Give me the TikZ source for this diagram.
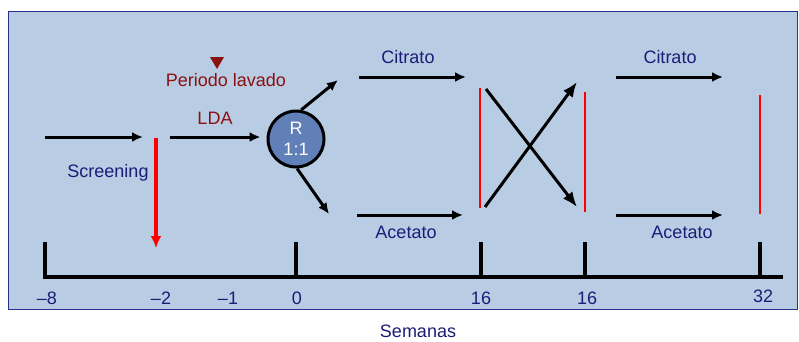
\documentclass[tikz,border=0pt]{standalone}
\usepackage{fontspec}
\setmainfont{Liberation Sans}
\usepackage{tikz}
\usetikzlibrary{arrows.meta,positioning}
\definecolor{panelBg}{HTML}{B8CCE4}
\definecolor{panelEdge}{HTML}{2B2F8F}
\definecolor{navy}{HTML}{1C1C78}
\definecolor{wine}{HTML}{8B1010}
\definecolor{randBg}{HTML}{6280B8}

\begin{document}
\begin{tikzpicture}[x=1pt,y=-1pt,>=Latex,
  lbl/.style={font=\fontsize{18}{21}\selectfont,text=navy,anchor=base,inner sep=0pt},
  flow/.style={-{Latex[length=11pt,width=10pt]},line width=3pt},
  swap/.style={-{Latex[length=15pt,width=12pt]},line width=3pt},
  axis/.style={line width=3.2pt},
  washout/.style={red,line width=2.2pt}]
  \useasboundingbox (0,0) rectangle (799,341);
  \draw[panelEdge,fill=panelBg,line width=1pt] (8,11) rectangle (797,309);

  % time axis
  \foreach \x/\n in {45/a,296/b,481/c,585/d,760/e}
    \coordinate (tick\n) at (\x,242);
  \coordinate (axR) at (783,277);
  \draw[axis] (ticka) |- (axR);
  \foreach \n in {b,c,d,e}
    \draw[axis] (tick\n) -- (tick\n |- axR);
  \foreach \x/\t in {47/{–8},161/{–2},228/{–1},297/0,481/16,587/16}
    \node[lbl] (wk\x) at (\x,304) {\t};
  \node[lbl] (wk763) at (763,302) {32};
  \node[lbl] (weeks) at (418,337) {Semanas};

  % screening and run-in
  \coordinate (scrA) at (45,137);
  \coordinate (scrB) at (143,137);
  \draw[flow] (scrA) -- (scrB);
  \node[lbl] (screen) at (108,177) {Screening};
  \coordinate (dropA) at (156,138);
  \coordinate (dropB) at (156,248);
  \draw[red,line width=3.2pt,-{Latex[length=12pt,width=11pt]}] (dropA) -- (dropB);

  \node[circle,draw,line width=3pt,fill=randBg,minimum size=56pt,inner sep=0pt,
    text=white,align=center,font=\fontsize{18}{21}\selectfont] (rand) at (296,139) {R\\1:1};
  \coordinate (ldaA) at (170,137);
  \draw[flow,shorten >=6pt] (ldaA) -- (ldaA -| rand.west);
  \node[lbl,text=wine] (lda) at (215,124) {LDA};
  \node[lbl,text=wine] (washlbl) at (226,86) {Periodo lavado};
  \fill[wine] (210,57) -- (224,57) -- (217,69) -- cycle;

  % randomisation
  \coordinate (upTip) at (338,80);
  \coordinate (loTip) at (329,214);
  \draw[flow] (rand.80) -- (upTip);
  \draw[flow] (rand.-88) -- (loTip);

  % first period
  \coordinate (citA) at (359,77);  \coordinate (citB) at (466,77);
  \coordinate (aceA) at (357,215); \coordinate (aceB) at (463,215);
  \draw[flow] (citA) -- (citB);
  \draw[flow] (aceA) -- (aceB);
  \node[lbl] (cit1) at (408,63) {Citrato};
  \node[lbl] (ace1) at (406,238) {Acetato};

  % crossover
  \coordinate (wA) at (480,88);  \coordinate (wB) at (480,208);
  \draw[washout] (wA) -- (wB);
  \coordinate (xA) at (486,89);  \coordinate (xB) at (577,207);
  \coordinate (xC) at (485,207); \coordinate (xD) at (577,82);
  \draw[swap] (xA) -- (xB);
  \draw[swap] (xC) -- (xD);
  \coordinate (wC) at (585,92);  \coordinate (wD) at (585,212);
  \draw[washout,line width=2.8pt] (wC) -- (wD);

  % second period
  \coordinate (citC) at (616,77);  \coordinate (citD) at (723,77);
  \coordinate (aceC) at (616,215); \coordinate (aceD) at (723,215);
  \draw[flow] (citC) -- (citD);
  \draw[flow] (aceC) -- (aceD);
  \node[lbl] (cit2) at (670,63) {Citrato};
  \node[lbl] (ace2) at (682,238) {Acetato};
  \coordinate (wE) at (760,95);  \coordinate (wF) at (760,214);
  \draw[washout] (wE) -- (wF);
\end{tikzpicture}
\end{document}
